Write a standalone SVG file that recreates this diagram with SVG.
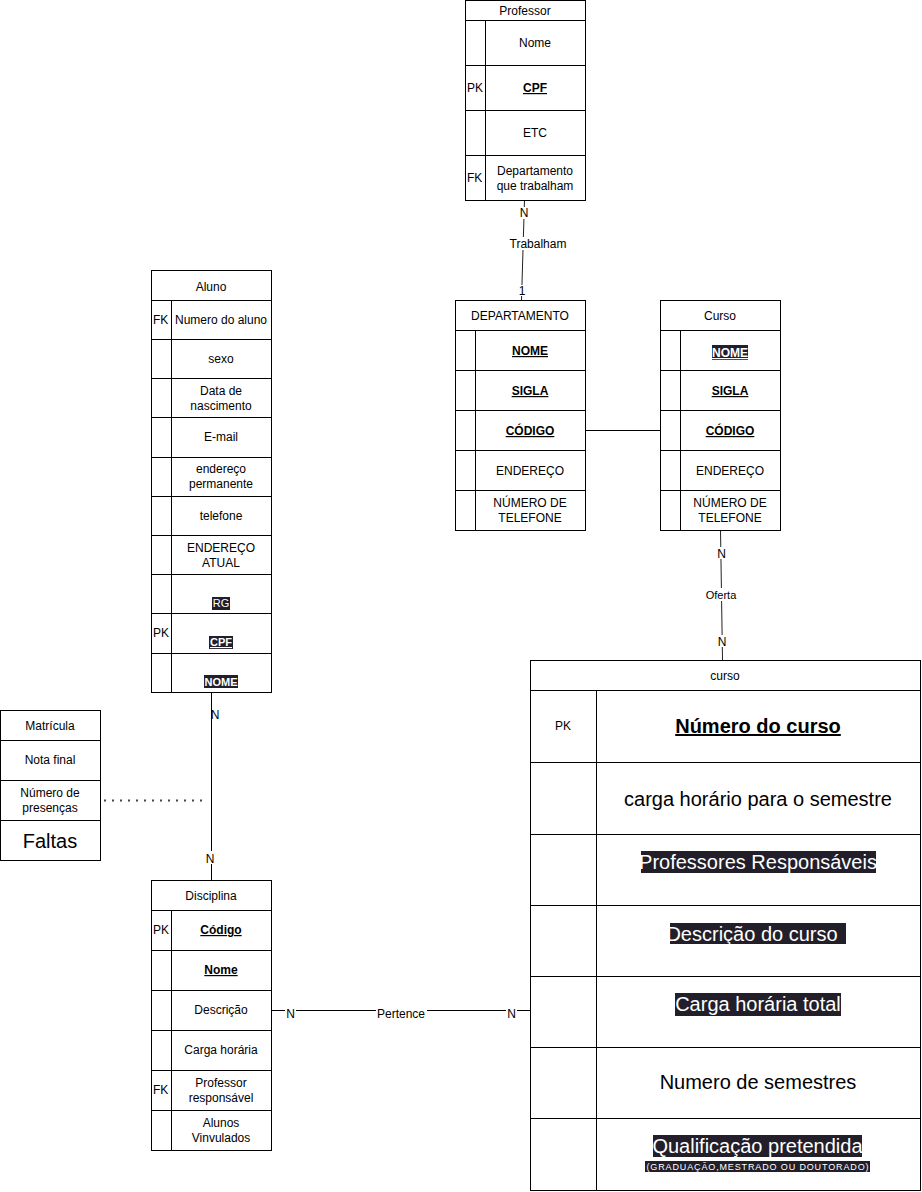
<svg xmlns="http://www.w3.org/2000/svg" width="922" height="1192" viewBox="0 0 922 1192">
<style>
.box{fill:#fff;stroke:#000;stroke-width:1;shape-rendering:crispEdges}
.ln{fill:none;stroke:#000;stroke-width:1;shape-rendering:crispEdges}
.cn{fill:none;stroke:#222;stroke-width:1}
.dot{fill:none;stroke:#444;stroke-width:2;stroke-dasharray:2 6}
.t{font-family:"Liberation Sans",Arial,sans-serif;font-size:12px;text-anchor:middle;fill:#000}
.k{text-anchor:start}
.u{font-weight:bold;text-decoration:underline}
.s11{font-size:11px}
.big{font-size:20px}
.hl{fill:#221f2a;shape-rendering:crispEdges}
.w{fill:#fff}
.lb{fill:#fff}
</style>

<g id="connectors">
  <line class="cn" x1="524.5" y1="200" x2="521.5" y2="300"/>
  <line class="ln" x1="585" y1="430.5" x2="660" y2="430.5"/>
  <line class="cn" x1="720.5" y1="530" x2="722.5" y2="660"/>
  <line class="ln" x1="211.5" y1="692" x2="211.5" y2="880"/>
  <line class="ln" x1="271" y1="1010.5" x2="530" y2="1010.5"/>
  <line class="dot" x1="104" y1="800.5" x2="208" y2="800.5"/>
  <rect class="lb" x="519" y="207" width="10" height="12"/>
  <text class="t" x="524" y="217">N</text>
  <rect class="lb" x="507" y="237" width="63" height="13"/>
  <text class="t" x="538" y="248">Trabalham</text>
  <rect class="lb" x="517" y="285" width="9" height="11"/>
  <text class="t" x="522" y="295">1</text>
  <rect class="lb" x="716" y="547" width="11" height="12"/>
  <text class="t" x="721.5" y="558">N</text>
  <rect class="lb" x="704" y="588" width="35" height="13"/>
  <text class="t" x="721" y="599" style="font-size:11px">Oferta</text>
  <rect class="lb" x="717" y="635" width="11" height="12"/>
  <text class="t" x="722" y="646">N</text>
  <text class="t" x="215" y="719">N</text>
  <rect class="lb" x="205" y="851" width="11" height="13"/>
  <text class="t" x="210" y="863">N</text>
  <rect class="lb" x="285" y="1007" width="11" height="12"/>
  <text class="t" x="290.5" y="1018">N</text>
  <rect class="lb" x="376" y="1007" width="51" height="13"/>
  <text class="t" x="401" y="1018">Pertence</text>
  <rect class="lb" x="506" y="1007" width="11" height="12"/>
  <text class="t" x="511.5" y="1018">N</text>
</g>

<g id="professor">
  <rect class="box" x="465.5" y="0.5" width="120" height="199.5"/>
  <path class="ln" d="M465.5 20.5H585.5M465.5 65.5H585.5M465.5 110.5H585.5M465.5 155.5H585.5M485.5 20.5V200"/>
  <text class="t" x="525" y="15">Professor</text>
  <text class="t" x="535" y="47">Nome</text>
  <text class="t k" x="467" y="92">PK</text>
  <text class="t u" x="535" y="92">CPF</text>
  <text class="t" x="535" y="137">ETC</text>
  <text class="t k" x="467" y="182">FK</text>
  <text class="t" x="535" y="175">Departamento</text>
  <text class="t" x="535" y="190">que trabalham</text>
</g>

<g id="departamento">
  <rect class="box" x="455.5" y="300.5" width="130" height="229.5"/>
  <path class="ln" d="M455.5 330.5H585.5M455.5 370.5H585.5M455.5 410.5H585.5M455.5 450.5H585.5M455.5 490.5H585.5M475.5 330.5V530"/>
  <text class="t" x="520" y="320">DEPARTAMENTO</text>
  <text class="t u" x="530" y="355">NOME</text>
  <text class="t u" x="530" y="395">SIGLA</text>
  <text class="t u" x="530" y="435">CÓDIGO</text>
  <text class="t" x="530" y="475">ENDEREÇO</text>
  <text class="t" x="530" y="507">NÚMERO DE</text>
  <text class="t" x="530" y="522">TELEFONE</text>
</g>

<g id="curso-entidade">
  <rect class="box" x="660.5" y="300.5" width="120" height="229.5"/>
  <path class="ln" d="M660.5 330.5H780.5M660.5 370.5H780.5M660.5 410.5H780.5M660.5 450.5H780.5M660.5 490.5H780.5M680.5 330.5V530"/>
  <text class="t" x="720" y="320">Curso</text>
  <rect class="hl" x="712" y="345" width="36" height="15"/>
  <text class="t u w" x="730" y="357">NOME</text>
  <text class="t u" x="730" y="395">SIGLA</text>
  <text class="t u" x="730" y="435">CÓDIGO</text>
  <text class="t" x="730" y="475">ENDEREÇO</text>
  <text class="t" x="730" y="507">NÚMERO DE</text>
  <text class="t" x="730" y="522">TELEFONE</text>
</g>

<g id="aluno">
  <rect class="box" x="151.5" y="270.5" width="120" height="421.5"/>
  <path class="ln" d="M151.5 300.5H271.5M151.5 339.5H271.5M151.5 378.5H271.5M151.5 417.5H271.5M151.5 457.5H271.5M151.5 496.5H271.5M151.5 535.5H271.5M151.5 574.5H271.5M151.5 613.5H271.5M151.5 653.5H271.5M171.5 300.5V692"/>
  <text class="t" x="211" y="291">Aluno</text>
  <text class="t k" x="153" y="324">FK</text>
  <text class="t" x="221" y="324">Numero do aluno</text>
  <text class="t" x="221" y="363">sexo</text>
  <text class="t" x="221" y="395">Data de</text>
  <text class="t" x="221" y="410">nascimento</text>
  <text class="t" x="221" y="441">E-mail</text>
  <text class="t" x="221" y="473">endereço</text>
  <text class="t" x="221" y="488">permanente</text>
  <text class="t" x="221" y="520">telefone</text>
  <text class="t" x="221" y="552">ENDEREÇO</text>
  <text class="t" x="221" y="567">ATUAL</text>
  <rect class="hl" x="212" y="597" width="18" height="13"/>
  <text class="t s11 w" x="221" y="607">RG</text>
  <text class="t k" x="153" y="637">PK</text>
  <rect class="hl" x="209" y="636" width="24" height="13"/>
  <text class="t s11 u w" x="221" y="646">CPF</text>
  <rect class="hl" x="204" y="675" width="34" height="13"/>
  <text class="t s11 w" x="221" y="686" style="font-weight:bold">NOME</text>
</g>

<g id="matricula">
  <rect class="box" x="0.5" y="710.5" width="100" height="150"/>
  <path class="ln" d="M0.5 740.5H100.5M0.5 780.5H100.5M0.5 820.5H100.5"/>
  <text class="t" x="50" y="730">Matrícula</text>
  <text class="t" x="50" y="764">Nota final</text>
  <text class="t" x="50" y="797">Número de</text>
  <text class="t" x="50" y="812">presenças</text>
  <text class="t big" x="50" y="848">Faltas</text>
</g>

<g id="disciplina">
  <rect class="box" x="151.5" y="880.5" width="120" height="269.5"/>
  <path class="ln" d="M151.5 910.5H271.5M151.5 950.5H271.5M151.5 990.5H271.5M151.5 1030.5H271.5M151.5 1070.5H271.5M151.5 1110.5H271.5M171.5 910.5V1150"/>
  <text class="t" x="211" y="900">Disciplina</text>
  <text class="t k" x="153" y="934">PK</text>
  <text class="t u" x="221" y="934">Código</text>
  <text class="t u" x="221" y="974">Nome</text>
  <text class="t" x="221" y="1014">Descrição</text>
  <text class="t" x="221" y="1054">Carga horária</text>
  <text class="t k" x="153" y="1094">FK</text>
  <text class="t" x="221" y="1087">Professor</text>
  <text class="t" x="221" y="1102">responsável</text>
  <text class="t" x="221" y="1127">Alunos</text>
  <text class="t" x="221" y="1142">Vinvulados</text>
</g>

<g id="curso">
  <rect class="box" x="530.5" y="660.5" width="390" height="529.5"/>
  <path class="ln" d="M530.5 690.5H920.5M530.5 762.5H920.5M530.5 834.5H920.5M530.5 905.5H920.5M530.5 976.5H920.5M530.5 1047.5H920.5M530.5 1118.5H920.5M596.5 690.5V1190"/>
  <text class="t" x="725" y="680">curso</text>
  <text class="t" x="563" y="730">PK</text>
  <text class="t big u" x="758" y="733">Número do curso</text>
  <text class="t big" x="758" y="806">carga horário para o semestre</text>
  <rect class="hl" x="641" y="851" width="235" height="22"/>
  <text class="t big w" x="758" y="869">Professores Responsáveis</text>
  <rect class="hl" x="670" y="923" width="176" height="21"/>
  <text class="t big w" x="752" y="941">Descrição do curso</text>
  <rect class="hl" x="675" y="993" width="166" height="23"/>
  <text class="t big w" x="758" y="1011">Carga horária total</text>
  <text class="t big" x="758" y="1089">Numero de semestres</text>
  <rect class="hl" x="653" y="1135" width="209" height="22"/>
  <text class="t big w" x="757.5" y="1153">Qualificação pretendida</text>
  <rect class="hl" x="645" y="1161" width="225" height="11"/>
  <text class="t w" x="757.5" y="1170" style="font-size:9px" textLength="222" lengthAdjust="spacing">(GRADUAÇÃO,MESTRADO OU  DOUTORADO)</text>
</g>
</svg>
